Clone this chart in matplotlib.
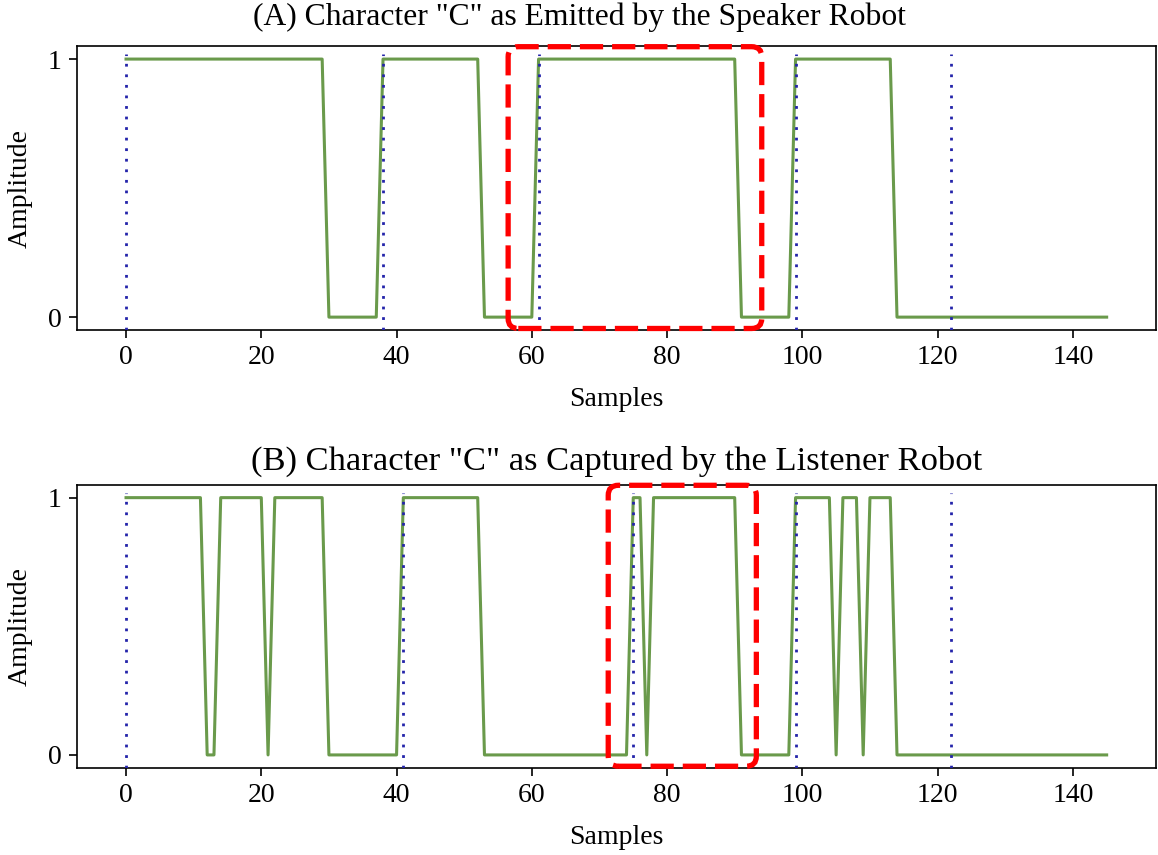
import matplotlib
matplotlib.use("Agg")
import matplotlib.pyplot as plt
import numpy as np
from matplotlib.patches import FancyBboxPatch

plt.rcParams['font.family'] = ['Liberation Serif', 'DejaVu Serif']
plt.rcParams['mathtext.fontset'] = 'stix'

# ---- data ----
emitted = [
    1,1,1,1,1,1,1,1,1,1, 1,1,1,1,1,1,1,1,1,1, 1,1,1,1,1,1,1,1,1,1,   # 0-29
    0,0,0,0,0,0,0,0,                                                 # 30-37
    1,1,1,1,1,1,1,1,1,1,1,1,1,1,1,                                   # 38-52
    0,0,0,0,0,0,0,0,                                                 # 53-60
    1,1,1,1,1,1,1,1,1,1, 1,1,1,1,1,1,1,1,1,1, 1,1,1,1,1,1,1,1,1,1,   # 61-90
    0,0,0,0,0,0,0,0,                                                 # 91-98
    1,1,1,1,1,1,1,1,1,1,1,1,1,1,1,                                   # 99-113
    0,0,0,0,0,0,0,0,0,0, 0,0,0,0,0,0,0,0,0,0, 0,0,0,0,0,0,0,0,0,0, 0,0  # 114-145
]
captured = [
    1,1,1,1,1,1,1,1,1,1,1,1,      # 0-11
    0,0,                          # 12-13
    1,1,1,1,1,1,1,                # 14-20
    0,                            # 21
    1,1,1,1,1,1,1,1,              # 22-29
    0,0,0,0,0,0,0,0,0,0,0,        # 30-40
    1,1,1,1,1,1,1,1,1,1,1,1,      # 41-52
    0,0,0,0,0,0,0,0,0,0,0,0,0,0,0,0,0,0,0,0,0,0,   # 53-74
    1,1,                          # 75-76
    0,                            # 77
    1,1,1,1,1,1,1,1,1,1,1,1,1,    # 78-90
    0,0,0,0,0,0,0,0,              # 91-98
    1,1,1,1,1,1,                  # 99-104
    0,                            # 105
    1,1,1,                        # 106-108
    0,                            # 109
    1,1,1,1,                      # 110-113
    0,0,0,0,0,0,0,0,0,0,0,0,0,0,0,0,0,0,0,0,0,0,0,0,0,0,0,0,0,0,0,0  # 114-145
]
emitted_bounds = [0, 38, 61, 99, 122]
captured_bounds = [0, 41, 75, 99, 122]
emitted_box = [56.5, 94.0]     # x-range of highlight box
captured_box = [71.3, 93.2]
titles = ['(A) Character "C" as Emitted by the Speaker Robot',
          '(B) Character "C" as Captured by the Listener Robot']
xticks = [0, 20, 40, 60, 80, 100, 120, 140]
yticks = [0, 1]

fig = plt.figure(figsize=(11.58, 8.55), dpi=100)
ax1 = fig.add_axes([0.0665, 0.614, 0.9315, 0.332])
ax2 = fig.add_axes([0.0665, 0.102, 0.9315, 0.331])

green = '#6a9a4b'
blue = '#2424aa'

title_specs = [dict(fontsize=22.8, x=0.466, pad=15),
               dict(fontsize=24.8, x=0.5, pad=11)]

for ax, sig, bounds, box, title, ts in [
        (ax1, emitted, emitted_bounds, emitted_box, titles[0], title_specs[0]),
        (ax2, captured, captured_bounds, captured_box, titles[1], title_specs[1])]:
    x = np.arange(len(sig))
    ax.plot(x, sig, color=green, lw=2.2)
    ax.set_ylim(-0.05, 1.05)
    ax.set_xlim(-7.25, 152.25)
    for b in bounds:
        ax.vlines(b, -0.05, 1.02, colors=blue, linestyles=(0, (1, 2.8)), lw=2.0, zorder=3)
    x0, x1 = box
    y0, y1 = -0.044, 1.048
    patch = FancyBboxPatch((x0, y0), x1 - x0, y1 - y0,
                           boxstyle="round,pad=0,rounding_size=1.5",
                           mutation_aspect=0.026,
                           fill=False, edgecolor='red', lw=3.8,
                           linestyle=(0, (4.4, 1.7)), clip_on=False, zorder=5,
                           transform=ax.transData)
    ax.add_patch(patch)
    ax.set_xticks(xticks)
    ax.set_yticks(yticks)
    ax.tick_params(labelsize=20, length=6, width=1.2, pad=5)
    ax.set_xlabel('Samples', fontsize=20, labelpad=12)
    ax.set_ylabel('Amplitude', fontsize=20, labelpad=11)
    ax.set_title(title, fontsize=ts['fontsize'], x=ts['x'], pad=ts['pad'])
    for s in ax.spines.values():
        s.set_linewidth(1.2)

fig.savefig('out.png', dpi=100)
